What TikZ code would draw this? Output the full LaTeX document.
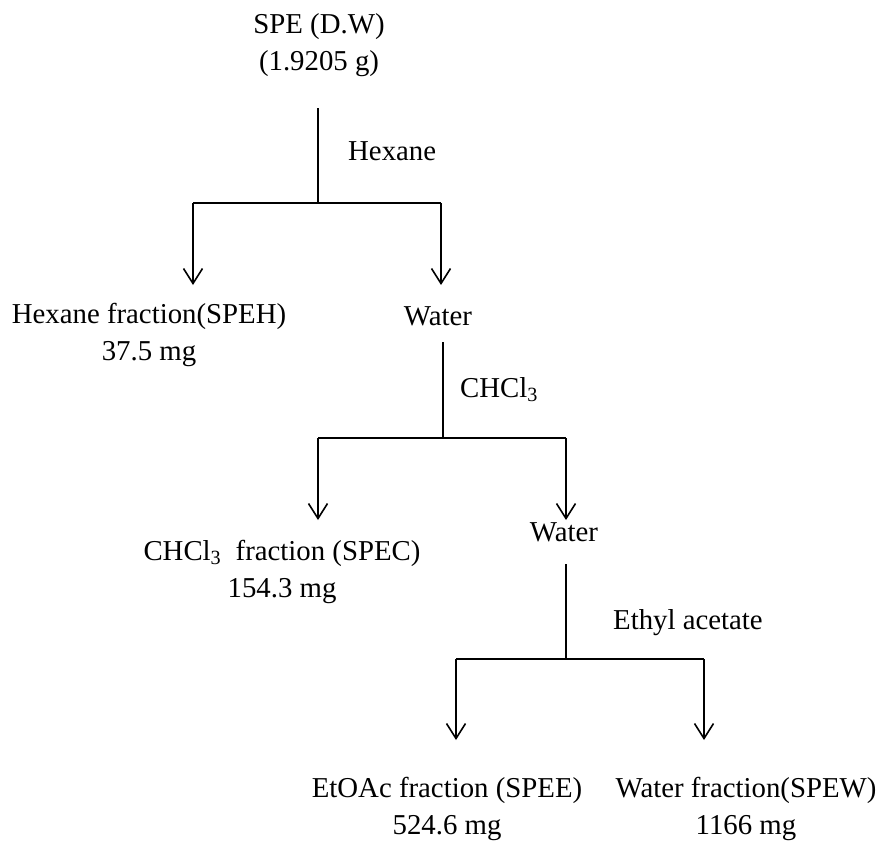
\documentclass[tikz,border=0pt]{standalone}
\usepackage{fontspec}
\setmainfont{Liberation Serif}
\usetikzlibrary{arrows.meta}
\begin{document}
\begin{tikzpicture}[x=1pt,y=-1pt,
  lbl/.style={inner sep=0pt,align=center,anchor=base,font=\fontsize{28.8}{37}\selectfont},
  side/.style={lbl,anchor=base west},
  conn/.style={line width=1.6pt},
  arr/.style={line width=1.6pt,-{Straight Barb[length=15pt,width=19pt,line width=1.6pt]}}]
\useasboundingbox (0,0) rectangle (883,841);
% texts (anchor = baseline of the last line)
\node[lbl] (spe) at (319,70) {SPE (D.W)\\(1.9205 g)};
\node[side] (hex) at (348,160) {Hexane};
\node[lbl] (speh) at (149,360) {Hexane fraction(SPEH)\\37.5 mg};
\node[lbl] (w1) at (438,325) {Water};
\node[side] (chl) at (460,397) {CHCl\textsubscript{3}};
\node[lbl] (spec) at (282,597) {CHCl\textsubscript{3}\ \ fraction (SPEC)\\154.3 mg};
\node[lbl] (w2) at (564,541) {Water};
\node[side] (eth) at (613,629) {Ethyl acetate};
\node[lbl] (spee) at (447,834) {EtOAc fraction (SPEE)\\524.6 mg};
\node[lbl] (spew) at (746,834) {Water fraction(SPEW)\\1166 mg};
% junction coordinates
\coordinate (a0) at (318,108);
\coordinate (a1) at (318,203);
\coordinate (aL) at (193,203);
\coordinate (aR) at (441,203);
\coordinate (aLe) at (193,285);
\coordinate (aRe) at (441,285);
\coordinate (b0) at (443,342);
\coordinate (b1) at (443,438);
\coordinate (bL) at (318,438);
\coordinate (bR) at (566,438);
\coordinate (bLe) at (318,520);
\coordinate (bRe) at (566,520);
\coordinate (c0) at (566,564);
\coordinate (c1) at (566,659);
\coordinate (cL) at (456,659);
\coordinate (cR) at (704,659);
\coordinate (cLe) at (456,740);
\coordinate (cRe) at (704,740);
% connectors
\draw[conn] (a0) -- (a1);
\draw[conn] (aL) -- (aR);
\draw[arr] (aL) -- (aLe);
\draw[arr] (aR) -- (aRe);
\draw[conn] (b0) -- (b1);
\draw[conn] (bL) -- (bR);
\draw[arr] (bL) -- (bLe);
\draw[arr] (bR) -- (bRe);
\draw[conn] (c0) -- (c1);
\draw[conn] (cL) -- (cR);
\draw[arr] (cL) -- (cLe);
\draw[arr] (cR) -- (cRe);
\end{tikzpicture}
\end{document}
